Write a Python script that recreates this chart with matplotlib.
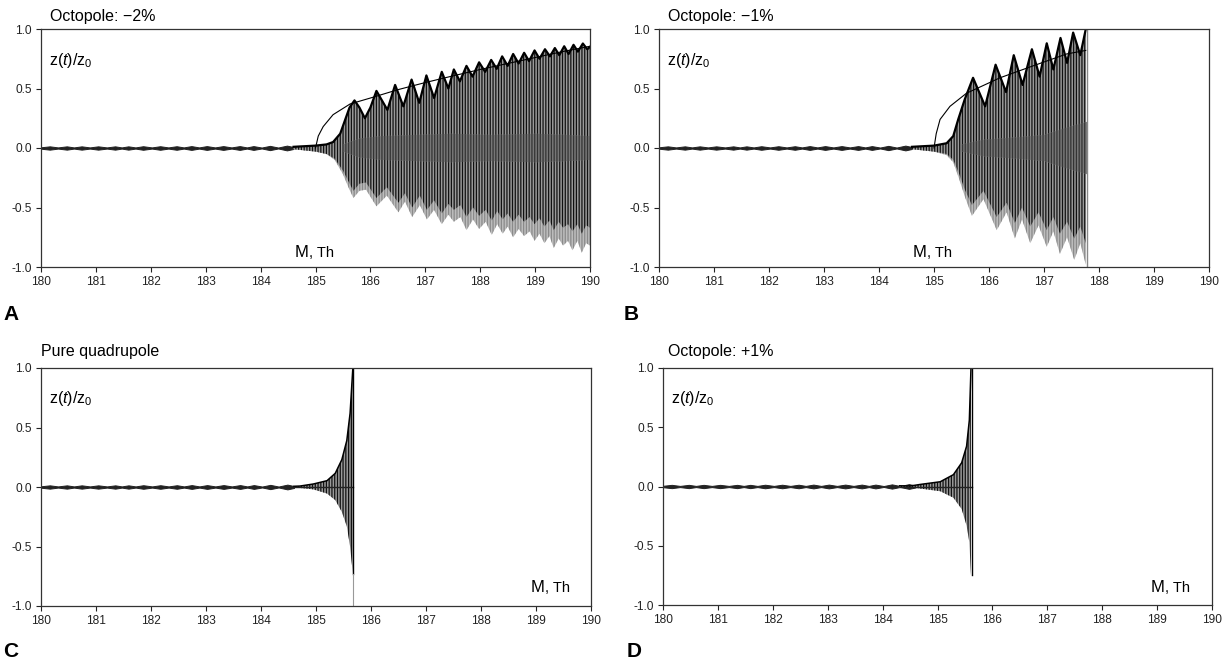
import numpy as np
import matplotlib
matplotlib.use("Agg")
import matplotlib.pyplot as plt

plt.rcParams['font.family'] = ['Liberation Sans', 'DejaVu Sans']
plt.rcParams['mathtext.fontset'] = 'custom'
plt.rcParams['mathtext.rm'] = 'Liberation Sans'
plt.rcParams['mathtext.it'] = 'Liberation Sans:italic'
plt.rcParams['hatch.linewidth'] = 0.9

W, H = 1231, 663

# ---------------- data ----------------
x_ticks = [180, 181, 182, 183, 184, 185, 186, 187, 188, 189, 190]
y_ticks = [-1.0, -0.5, 0.0, 0.5, 1.0]

titles = ["Octopole: \u22122%", "Octopole: \u22121%", "Pure quadrupole", "Octopole: +1%"]
letters = ["A", "B", "C", "D"]

# small ripple before the instability (same in all panels)
ripple_x = [180.0, 180.16, 180.31, 180.47, 180.6, 180.74, 180.89, 181.04, 181.2, 181.35,
            181.47, 181.59, 181.72, 181.86, 182.02, 182.17, 182.32, 182.47, 182.6, 182.74,
            182.88, 183.02, 183.17, 183.32, 183.47, 183.62, 183.75, 183.87, 184.02, 184.17,
            184.32, 184.48, 184.6]
ripple_amp = [0.006, 0.014, 0.005, 0.014, 0.005, 0.014, 0.005, 0.014, 0.005, 0.014,
              0.005, 0.014, 0.005, 0.015, 0.005, 0.015, 0.005, 0.015, 0.005, 0.016,
              0.005, 0.016, 0.005, 0.016, 0.005, 0.016, 0.005, 0.016, 0.004, 0.018,
              0.004, 0.02, 0.008]

# Panel A (octopole -2%)
A_up_x = [184.6, 184.8, 185.0, 185.2, 185.32, 185.45, 185.55, 185.62, 185.71, 185.80,
          185.90, 186.00, 186.11, 186.31, 186.45, 186.60, 186.75, 186.89, 187.02, 187.16,
          187.30, 187.42, 187.52, 187.63, 187.75, 187.86, 187.98, 188.09, 188.20, 188.30,
          188.40, 188.50, 188.60, 188.70, 188.80, 188.89, 188.99, 189.08, 189.18, 189.27,
          189.36, 189.44, 189.53, 189.61, 189.70, 189.78, 189.87, 189.95, 190.0]
A_up_y = [0.01, 0.015, 0.02, 0.03, 0.05, 0.12, 0.25, 0.34, 0.40, 0.34,
          0.25, 0.34, 0.48, 0.32, 0.53, 0.35, 0.575, 0.38, 0.61, 0.42,
          0.64, 0.50, 0.66, 0.56, 0.69, 0.60, 0.72, 0.64, 0.74, 0.665,
          0.77, 0.69, 0.79, 0.71, 0.80, 0.73, 0.82, 0.75, 0.83, 0.77,
          0.84, 0.78, 0.855, 0.79, 0.867, 0.81, 0.878, 0.83, 0.85]
A_lo_x = [184.6, 184.8, 185.0, 185.2, 185.35, 185.5, 185.6, 185.69, 185.8, 185.92,
          186.11, 186.3, 186.51, 186.63, 186.76, 186.9, 187.03, 187.16, 187.30, 187.42,
          187.52, 187.64, 187.75, 187.87, 187.98, 188.1, 188.21, 188.31, 188.41, 188.5,
          188.60, 188.7, 188.80, 188.9, 188.99, 189.08, 189.17, 189.26, 189.34, 189.43,
          189.51, 189.6, 189.68, 189.77, 189.85, 189.93, 190.0]
A_lo_gray = [-0.01, -0.02, -0.03, -0.05, -0.1, -0.22, -0.33, -0.42, -0.36, -0.35,
             -0.49, -0.40, -0.54, -0.45, -0.58, -0.48, -0.6, -0.52, -0.64, -0.56,
             -0.62, -0.58, -0.69, -0.60, -0.68, -0.62, -0.73, -0.64, -0.72, -0.66,
             -0.75, -0.68, -0.74, -0.70, -0.78, -0.72, -0.80, -0.74, -0.84, -0.76,
             -0.82, -0.78, -0.86, -0.78, -0.88, -0.80, -0.82]
A_lo_black = [-0.01, -0.02, -0.03, -0.05, -0.09, -0.19, -0.28, -0.36, -0.30, -0.29,
              -0.42, -0.33, -0.46, -0.38, -0.50, -0.40, -0.52, -0.44, -0.55, -0.47,
              -0.52, -0.48, -0.58, -0.50, -0.57, -0.52, -0.61, -0.53, -0.60, -0.55,
              -0.62, -0.56, -0.62, -0.58, -0.64, -0.59, -0.66, -0.61, -0.69, -0.62,
              -0.67, -0.64, -0.70, -0.64, -0.72, -0.65, -0.67]
A_core_x = [185.5, 185.8, 186.2, 186.8, 187.5, 188.2, 189.0, 189.6, 190.0]
A_core_half = [0.03, 0.08, 0.10, 0.11, 0.12, 0.11, 0.12, 0.11, 0.10]
A_thin_x = [185.0, 185.05, 185.14, 185.32, 185.63, 186.0, 186.5, 187.0, 187.45, 188.0,
            188.5, 189.0, 189.5, 190.0]
A_thin_y = [0.0, 0.10, 0.18, 0.28, 0.37, 0.42, 0.49, 0.55, 0.60, 0.66,
            0.71, 0.76, 0.81, 0.855]

# Panel B (octopole -1%)
B_up_x = [184.6, 184.8, 185.0, 185.23, 185.35, 185.44, 185.56, 185.71, 185.93, 186.12,
          186.31, 186.45, 186.61, 186.78, 186.92, 187.05, 187.17, 187.30, 187.42, 187.53,
          187.66, 187.76]
B_up_y = [0.01, 0.015, 0.02, 0.04, 0.10, 0.24, 0.41, 0.59, 0.35, 0.70,
          0.47, 0.78, 0.53, 0.83, 0.60, 0.88, 0.66, 0.925, 0.715, 0.97,
          0.78, 1.0]
B_lo_x = [184.6, 184.8, 185.0, 185.23, 185.35, 185.45, 185.57, 185.69, 185.9, 186.14,
          186.32, 186.47, 186.6, 186.75, 186.9, 187.05, 187.17, 187.29, 187.42, 187.55,
          187.66, 187.76]
B_lo_gray = [-0.01, -0.02, -0.03, -0.06, -0.12, -0.25, -0.42, -0.57, -0.43, -0.69,
             -0.54, -0.76, -0.60, -0.80, -0.65, -0.83, -0.70, -0.89, -0.75, -0.94,
             -0.80, -0.98]
B_lo_black = [-0.01, -0.02, -0.03, -0.05, -0.10, -0.21, -0.36, -0.48, -0.36, -0.58,
              -0.46, -0.63, -0.50, -0.66, -0.54, -0.69, -0.58, -0.72, -0.62, -0.76,
              -0.66, -0.80]
B_core_x = [185.5, 185.9, 186.5, 187.0, 187.4, 187.78]
B_core_half = [0.03, 0.07, 0.09, 0.11, 0.17, 0.22]
B_thin_x = [185.0, 185.04, 185.11, 185.29, 185.59, 186.2, 186.8, 187.41, 187.76]
B_thin_y = [0.0, 0.12, 0.24, 0.35, 0.46, 0.59, 0.69, 0.79, 0.82]
B_end = 187.78

# Panel C (pure quadrupole)
C_x = [184.6, 184.71, 184.95, 185.2, 185.35, 185.47, 185.56, 185.62, 185.67]
C_up = [0.006, 0.008, 0.025, 0.053, 0.115, 0.23, 0.39, 0.62, 1.0]
C_lo = [-0.006, -0.008, -0.02, -0.055, -0.11, -0.21, -0.33, -0.50, -0.73]
C_end = 185.68
C_end_low = -1.0

# Panel D (octopole +1%)
D_x = [184.31, 184.5, 184.68, 185.05, 185.29, 185.44, 185.53, 185.58, 185.61]
D_up = [0.006, 0.004, 0.017, 0.04, 0.10, 0.20, 0.34, 0.56, 1.0]
D_lo = [-0.006, -0.004, -0.017, -0.04, -0.095, -0.19, -0.33, -0.47, -0.75]
D_end = 185.62
D_end_low = -0.75

# ---------------- layout (pixels) ----------------
axes_px = [(41, 29, 590, 267), (659, 29, 1209, 267),
           (41, 368, 591, 606), (663, 368, 1212, 605)]


def fx(x):
    return x / W


def fy(y):
    return 1 - y / H


fig = plt.figure(figsize=(W / 100, H / 100), dpi=100)
axes = []
for (l, t, r, b) in axes_px:
    ax = fig.add_axes([fx(l), fy(b), (r - l) / W, (b - t) / H])
    ax.set_xlim(180, 190)
    ax.set_ylim(-1, 1)
    ax.set_xticks(x_ticks)
    ax.set_yticks(y_ticks)
    ax.set_yticklabels(["%.1f" % v for v in y_ticks])
    ax.tick_params(direction='out', length=3.5, width=0.8, labelsize=8.6,
                   colors='#222222', pad=3)
    for s in ax.spines.values():
        s.set_linewidth(0.9)
        s.set_color('#333333')
    amp = np.array(ripple_amp)
    ax.fill_between(ripple_x, -amp, amp, facecolor='#222222', edgecolor='#222222', lw=0.7)
    axes.append(ax)


def burst(ax, upx, upy, lox, loy_gray, loy_black):
    xs = np.concatenate([upx, lox[::-1]])
    ax.fill(xs, np.concatenate([upy, np.array(loy_gray)[::-1]]), facecolor='#bdbdbd',
            edgecolor='#8a8a8a', hatch='||||||', lw=0)
    ax.fill(xs, np.concatenate([upy, np.array(loy_black)[::-1]]), facecolor='#9a9a9a',
            edgecolor='#111111', hatch='||||||', lw=0)


# Panel A
ax = axes[0]
burst(ax, np.array(A_up_x), np.array(A_up_y), np.array(A_lo_x), A_lo_gray, A_lo_black)
ch = np.array(A_core_half)
ax.fill_between(A_core_x, -ch, ch, facecolor='#777777', edgecolor='#333333', hatch='||||||', lw=0)
ax.plot(A_up_x, A_up_y, color='black', lw=1.6, solid_joinstyle='round')
ax.plot(A_thin_x, A_thin_y, color='black', lw=0.8)

# Panel B
ax = axes[1]
burst(ax, np.array(B_up_x), np.array(B_up_y), np.array(B_lo_x), B_lo_gray, B_lo_black)
ch = np.array(B_core_half)
ax.fill_between(B_core_x, -ch, ch, facecolor='#777777', edgecolor='#333333', hatch='||||||', lw=0)
ax.plot(B_up_x, B_up_y, color='black', lw=1.6, solid_joinstyle='round')
ax.plot(B_thin_x, B_thin_y, color='black', lw=0.8)
ax.plot([B_end, B_end], [-1, 1], color='#888888', lw=1.0)

# Panel C
ax = axes[2]
ax.fill_between(C_x, C_lo, C_up, facecolor='#9a9a9a', edgecolor='#111111', hatch='||||||', lw=0)
ax.plot(C_x, C_up, color='black', lw=1.1)
ax.plot([C_x[0], C_end], [0, 0], color='#222222', lw=1.0)
ax.plot([C_end, C_end], [C_lo[-1], 1], color='black', lw=1.0)
ax.plot([C_end, C_end], [C_end_low, C_lo[-1]], color='#999999', lw=0.8)

# Panel D
ax = axes[3]
ax.fill_between(D_x, D_lo, D_up, facecolor='#9a9a9a', edgecolor='#111111', hatch='||||||', lw=0)
ax.plot(D_x, D_up, color='black', lw=1.1)
ax.plot([D_x[0], D_end], [0, 0], color='#222222', lw=1.0)
ax.plot([D_end, D_end], [D_end_low, 1], color='black', lw=1.0)

# ---------------- texts ----------------
title_pos = [(50, 21), (668, 21), (41, 356), (668, 356)]
zlab_pos = [(49, 65), (667, 65), (49, 403), (671, 403)]
letter_pos = [(3, 320), (624, 320), (3, 657), (627, 657)]
mth_pos = [(295, 257), (913, 257), (531, 592), (1151, 592)]

for i in range(4):
    x, y = title_pos[i]
    fig.text(fx(x), fy(y), titles[i], fontsize=11.5, va='baseline', ha='left')
    x, y = zlab_pos[i]
    fig.text(fx(x), fy(y), r'z($\mathit{t}$)/z$_0$', fontsize=11.5, va='baseline', ha='left')
    x, y = letter_pos[i]
    fig.text(fx(x), fy(y), letters[i], fontsize=15, fontweight='bold', va='baseline', ha='left')
    x, y = mth_pos[i]
    tm = fig.text(fx(x), fy(y), 'M', fontsize=12, va='baseline', ha='left')
    axes[i].annotate(', Th', xy=(1.0, 0.0), xycoords=tm, fontsize=10.5,
                     va='bottom', ha='left')

fig.savefig('out.png', dpi=100, facecolor='white')
